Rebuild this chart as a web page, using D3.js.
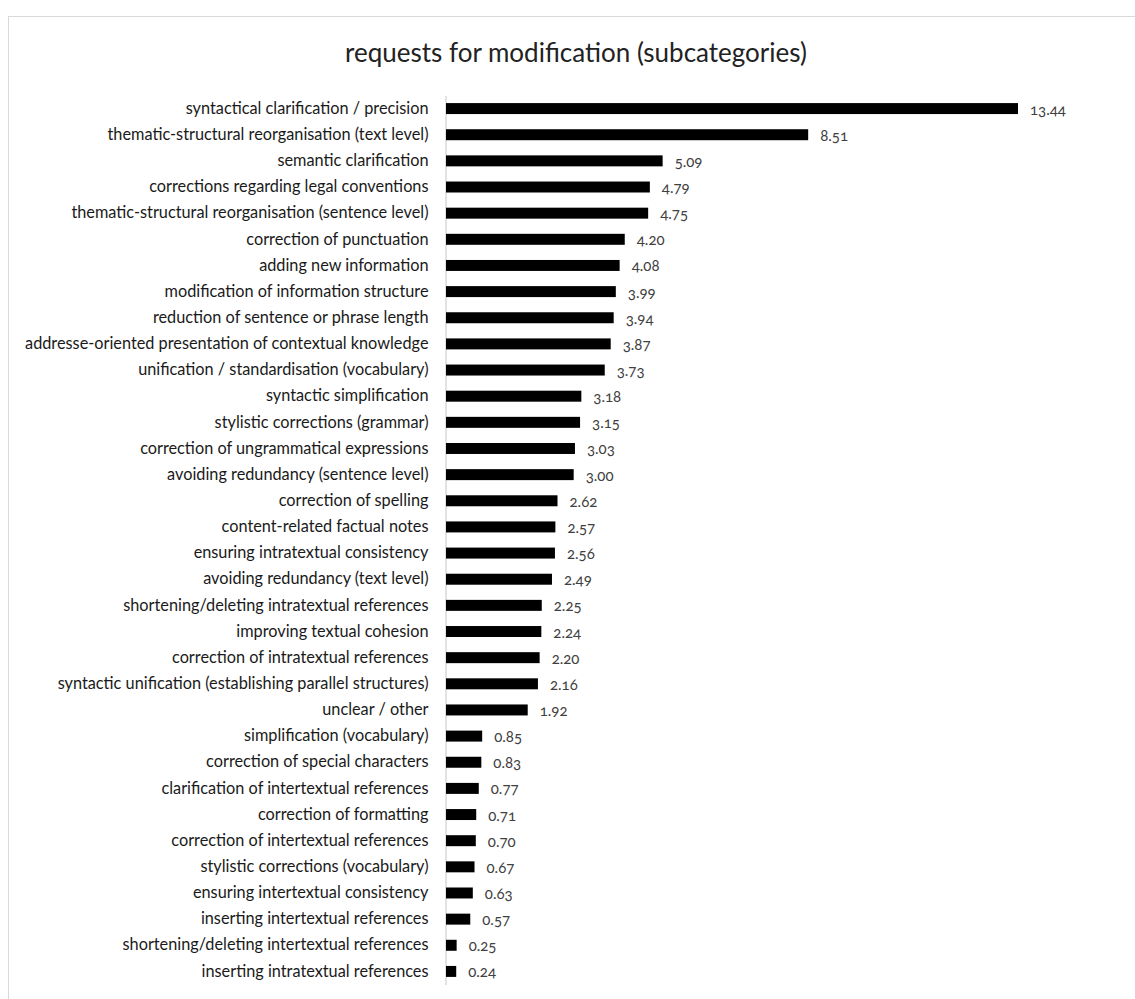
<!DOCTYPE html>
<html>
<head>
<meta charset="utf-8">
<script src="https://cdn.jsdelivr.net/npm/d3@7"></script>
<style>
  html, body { margin: 0; padding: 0; background: #fff; }
  svg { display: block; font-family: Lato, "Open Sans", sans-serif; }
  .val { font-variant-numeric: oldstyle-nums; }
</style>
</head>
<body>
<svg id="chart" width="1135" height="999"></svg>
<script>
const chartTitle = "requests for modification (subcategories)";

const categories = [
  "syntactical clarification / precision",
  "thematic-structural reorganisation (text level)",
  "semantic clarification",
  "corrections regarding legal conventions",
  "thematic-structural reorganisation (sentence level)",
  "correction of punctuation",
  "adding new information",
  "modification of information structure",
  "reduction of sentence or phrase length",
  "addresse-oriented presentation of contextual knowledge",
  "unification / standardisation (vocabulary)",
  "syntactic simplification",
  "stylistic corrections (grammar)",
  "correction of ungrammatical expressions",
  "avoiding redundancy (sentence level)",
  "correction of spelling",
  "content-related factual notes",
  "ensuring intratextual consistency",
  "avoiding redundancy (text level)",
  "shortening/deleting intratextual references",
  "improving textual cohesion",
  "correction of intratextual references",
  "syntactic unification (establishing parallel structures)",
  "unclear / other",
  "simplification (vocabulary)",
  "correction of special characters",
  "clarification of intertextual references",
  "correction of formatting",
  "correction of intertextual references",
  "stylistic corrections (vocabulary)",
  "ensuring intertextual consistency",
  "inserting intertextual references",
  "shortening/deleting intertextual references",
  "inserting intratextual references"
];

const values = [
  13.44, 8.51, 5.09, 4.79, 4.75, 4.20, 4.08, 3.99, 3.94, 3.87, 3.73,
  3.18, 3.15, 3.03, 3.00, 2.62, 2.57, 2.56, 2.49, 2.25, 2.24, 2.20,
  2.16, 1.92, 0.85, 0.83, 0.77, 0.71, 0.70, 0.67, 0.63, 0.57, 0.25, 0.24
];

const rows = categories.map((c, i) => ({ name: c, value: values[i] }));

const svg = d3.select("#chart");

// outer frame
svg.append("rect")
  .attr("x", 8.5).attr("y", 16.5)
  .attr("width", 1140).attr("height", 1000)
  .attr("fill", "none").attr("stroke", "#d9d9d9").attr("stroke-width", 1);

svg.append("text")
  .attr("x", 576).attr("y", 62)
  .attr("text-anchor", "middle")
  .attr("font-size", 26)
  .attr("fill", "#222")
  .text(chartTitle);

const x = d3.scaleLinear().domain([0, 13.44]).range([446, 1018]);
const y = d3.scaleBand().domain(categories).range([95.5, 984.5]).paddingInner(0.58).paddingOuter(0.29);

// category axis
const yAxis = d3.axisLeft(y).tickSize(0).tickPadding(17);
const gy = svg.append("g").attr("transform", "translate(445.5,0)").call(yAxis);
gy.select(".domain").attr("stroke", "#d9d9d9").attr("stroke-width", 1.5);
gy.selectAll("text").attr("font-size", 16.3).attr("fill", "#1a1a1a")
  .attr("font-family", "Lato, 'Open Sans', sans-serif");

svg.append("g").selectAll("rect")
  .data(rows).join("rect")
  .attr("x", x(0))
  .attr("y", d => y(d.name))
  .attr("width", d => x(d.value) - x(0))
  .attr("height", y.bandwidth())
  .attr("fill", "#000");

svg.append("g").selectAll("text")
  .data(rows).join("text")
  .attr("class", "val")
  .attr("x", d => x(d.value) + 12)
  .attr("y", d => y(d.name) + y.bandwidth() / 2 + 6)
  .attr("font-size", 15)
  .attr("fill", "#404040")
  .text(d => d.value.toFixed(2));
</script>
</body>
</html>
